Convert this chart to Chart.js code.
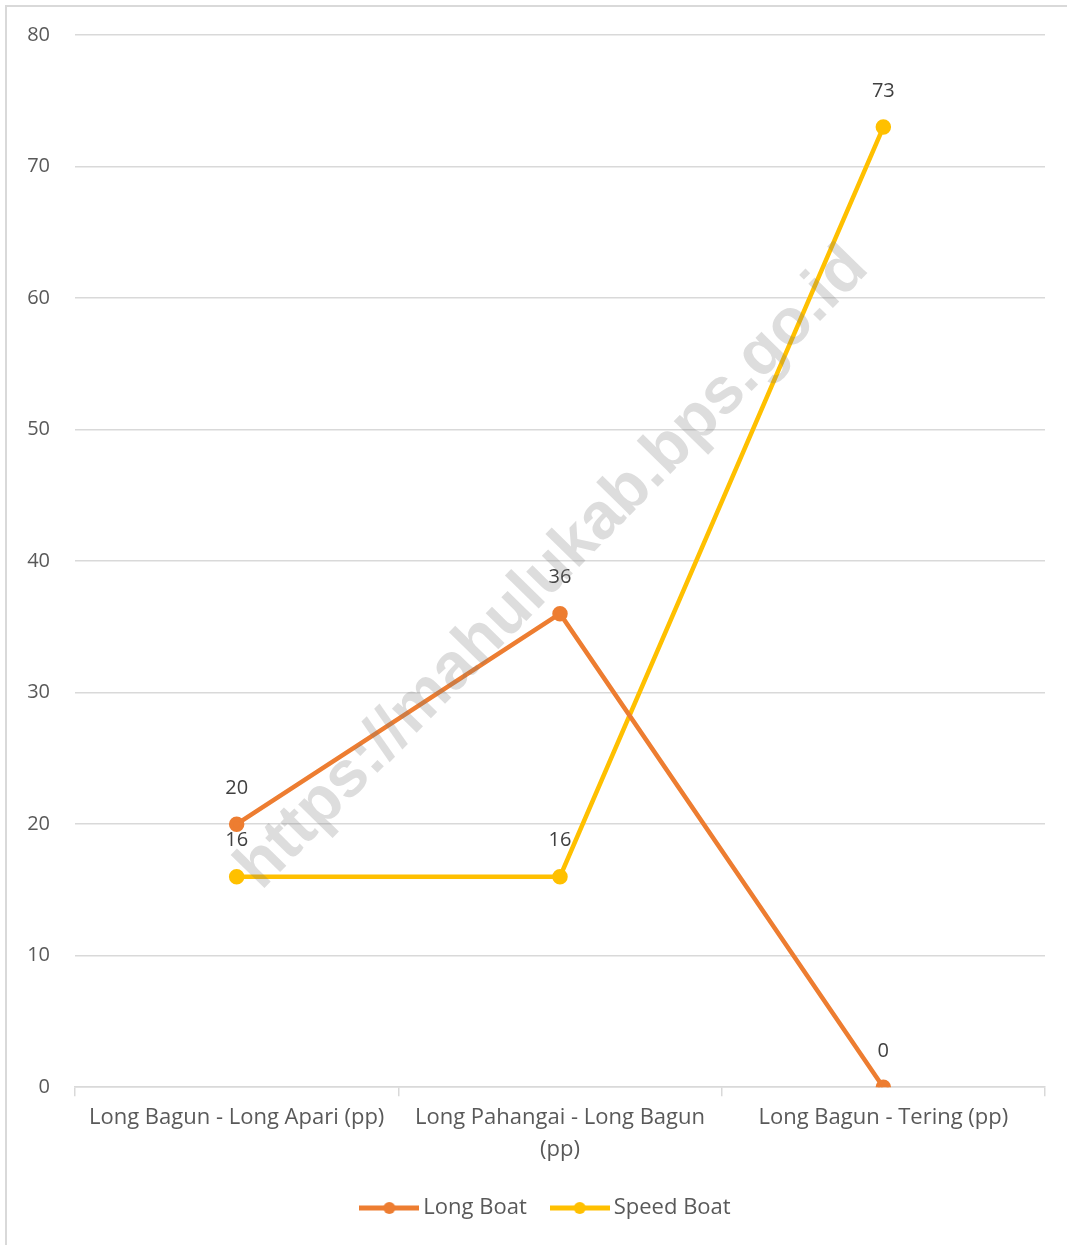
<!DOCTYPE html>
<html>
<head>
<meta charset="utf-8">
<script src="https://cdn.jsdelivr.net/npm/chart.js@4/dist/chart.umd.min.js"></script>
<style>
  html, body { margin: 0; padding: 0; background: #fff; }
  #wrap { position: relative; width: 1067px; height: 1245px; overflow: hidden; }
  #frame { position: absolute; left: 5px; top: 5px; width: 1200px; height: 1400px;
           border-top: 2px solid #d9d9d9; border-left: 2px solid #d9d9d9; }
  canvas { position: absolute; left: 0; top: 0; }
</style>
</head>
<body>
<div id="wrap">
  <div id="frame"></div>
  <canvas id="chart" width="1067" height="1245"></canvas>
</div>
<script>
// data
const categories = [
  "Long Bagun - Long Apari (pp)",
  ["Long Pahangai - Long Bagun", "(pp)"],
  "Long Bagun - Tering (pp)"
];
const longBoat = [20, 36, 0];
const speedBoat = [16, 16, 73];
const yTicks = [0, 10, 20, 30, 40, 50, 60, 70, 80];

const ORANGE = "#ED7D31";
const YELLOW = "#FFC000";
const FONT = "'Open Sans', 'Noto Sans', sans-serif";

// legend marker: short line with a dot
function marker(color) {
  const c = document.createElement("canvas");
  c.width = 60; c.height = 14;
  const g = c.getContext("2d");
  g.strokeStyle = color;
  g.lineWidth = 5;
  g.beginPath(); g.moveTo(0, 7); g.lineTo(60, 7); g.stroke();
  g.fillStyle = color;
  g.beginPath(); g.arc(30, 7, 6, 0, Math.PI * 2); g.fill();
  return c;
}

// value labels above points
const valueLabels = {
  id: "valueLabels",
  afterDatasetsDraw(chart) {
    const ctx = chart.ctx;
    ctx.save();
    ctx.font = "20px " + FONT;
    ctx.fillStyle = "#404040";
    ctx.textAlign = "center";
    ctx.textBaseline = "middle";
    chart.data.datasets.forEach((ds, i) => {
      chart.getDatasetMeta(i).data.forEach((pt, j) => {
        ctx.fillText(String(ds.data[j]), pt.x, pt.y - 36);
      });
    });
    ctx.restore();
  }
};

// watermark across the plot
const watermark = {
  id: "watermark",
  afterDatasetsDraw(chart) {
    const ctx = chart.ctx;
    const text = "https://mahulukab.bps.go.id";
    ctx.save();
    ctx.translate(553, 568);
    ctx.rotate(-Math.PI / 4 - 0.01);
    let size = 50;
    ctx.font = "bold " + size + "px 'Liberation Sans', Arial, sans-serif";
    size = size * 870 / ctx.measureText(text).width;
    ctx.font = "bold " + size + "px 'Liberation Sans', Arial, sans-serif";
    ctx.fillStyle = "rgba(120,120,120,0.25)";
    ctx.textAlign = "center";
    ctx.textBaseline = "middle";
    ctx.fillText(text, 0, 0);
    ctx.restore();
  }
};

// the legend sits a bit right of the canvas centre and a little higher
const legendShift = {
  id: "legendShift",
  afterLayout(chart) {
    const lg = chart.legend;
    lg.left += 26; lg.right += 26;
    lg.top -= 5; lg.bottom -= 5;
  }
};

new Chart(document.getElementById("chart"), {
  type: "line",
  data: {
    labels: categories,
    datasets: [
      {
        label: "Long Boat",
        data: longBoat,
        borderColor: ORANGE,
        backgroundColor: ORANGE,
        borderWidth: 4.5,
        pointRadius: 5.5,
        pointBackgroundColor: ORANGE,
        pointBorderColor: ORANGE,
        tension: 0
      },
      {
        label: "Speed Boat",
        data: speedBoat,
        borderColor: YELLOW,
        backgroundColor: YELLOW,
        borderWidth: 4.5,
        pointRadius: 5.5,
        pointBackgroundColor: YELLOW,
        pointBorderColor: YELLOW,
        tension: 0
      }
    ]
  },
  options: {
    responsive: false,
    animation: false,
    layout: { padding: { top: 35, right: 22, left: 0, bottom: 11 } },
    scales: {
      x: {
        offset: true,
        grid: { offset: true, drawOnChartArea: false, drawTicks: true, tickLength: 9, color: "#d9d9d9", lineWidth: 1.5 },
        border: { display: true, color: "#d9d9d9", width: 1.5 },
        ticks: { color: "#595959", font: { family: FONT, size: 22, lineHeight: 1.45 }, padding: 6, maxRotation: 0, autoSkip: false }
      },
      y: {
        min: 0,
        max: 80,
        afterBuildTicks: s => { s.ticks = yTicks.map(v => ({ value: v })); },
        afterFit: s => { s.width = 75; s.paddingTop = 0; s.paddingBottom = 0; },
        grid: { drawTicks: false, color: "#d9d9d9", lineWidth: 1.5 },
        border: { display: false },
        ticks: { color: "#595959", font: { family: FONT, size: 20 }, padding: 25 }
      }
    },
    plugins: {
      tooltip: { enabled: false },
      legend: {
        position: "bottom",
        labels: {
          color: "#595959",
          font: { family: FONT, size: 22 },
          usePointStyle: true,
          pointStyleWidth: 46,
          padding: 30,
          generateLabels: chart => {
            const items = Chart.defaults.plugins.legend.labels.generateLabels(chart);
            items.forEach((it, i) => { it.pointStyle = marker(i === 0 ? ORANGE : YELLOW); });
            return items;
          }
        }
      }
    }
  },
  plugins: [valueLabels, watermark, legendShift]
});
</script>
</body>
</html>
